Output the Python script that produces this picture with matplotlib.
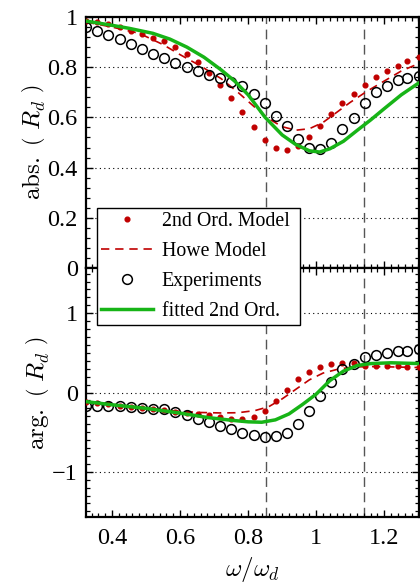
import matplotlib
matplotlib.use("Agg")
import matplotlib.pyplot as plt
from matplotlib.ticker import MultipleLocator, FixedLocator
from matplotlib.lines import Line2D

plt.rcParams['font.family'] = ['Liberation Serif', 'DejaVu Serif']
plt.rcParams['mathtext.fontset'] = 'cm'

# ---------------- data ----------------
exp_x = [0.3235, 0.357, 0.389, 0.422, 0.455, 0.487, 0.520, 0.553, 0.586, 0.620,
         0.652, 0.685, 0.718, 0.751, 0.783, 0.817, 0.849, 0.881, 0.914, 0.947,
         0.980, 1.012, 1.044, 1.077, 1.110, 1.143, 1.176, 1.208, 1.241, 1.268, 1.302]
exp_abs = [0.960, 0.944, 0.930, 0.912, 0.894, 0.874, 0.854, 0.836, 0.817, 0.800,
           0.786, 0.769, 0.757, 0.741, 0.724, 0.695, 0.658, 0.607, 0.565, 0.512,
           0.480, 0.476, 0.500, 0.552, 0.599, 0.658, 0.700, 0.727, 0.748, 0.759, 0.764]
exp_arg = [-0.176, -0.168, -0.168, -0.176, -0.185, -0.193, -0.202, -0.210, -0.244, -0.286,
           -0.336, -0.378, -0.420, -0.462, -0.513, -0.538, -0.563, -0.546, -0.513, -0.403,
           -0.235, -0.050, 0.134, 0.294, 0.361, 0.445, 0.475, 0.504, 0.529, 0.529, 0.546]

so_abs = [0.985, 0.980, 0.972, 0.960, 0.944, 0.932, 0.918, 0.903, 0.879, 0.851,
          0.820, 0.775, 0.730, 0.679, 0.620, 0.561, 0.511, 0.477, 0.469, 0.488,
          0.522, 0.566, 0.612, 0.656, 0.694, 0.729, 0.760, 0.785, 0.806, 0.826, 0.842]
so_arg = [-0.120, -0.135, -0.150, -0.165, -0.180, -0.195, -0.210, -0.225, -0.240, -0.255,
          -0.270, -0.290, -0.310, -0.330, -0.340, -0.311, -0.235, -0.113, 0.030, 0.166,
          0.263, 0.323, 0.360, 0.378, 0.370, 0.330, 0.335, 0.330, 0.330, 0.325, 0.320]

howe_x = [0.3235, 0.40, 0.48, 0.55, 0.60, 0.66, 0.72, 0.77, 0.82, 0.86, 0.90, 0.94,
          0.98, 1.02, 1.06, 1.10, 1.15, 1.20, 1.25, 1.302]
howe_abs = [0.980, 0.960, 0.935, 0.890, 0.850, 0.805, 0.755, 0.700, 0.640, 0.595, 0.563, 0.549,
            0.555, 0.580, 0.620, 0.660, 0.705, 0.745, 0.785, 0.815]
howe_arg = [-0.120, -0.150, -0.185, -0.220, -0.238, -0.252, -0.258, -0.255, -0.228, -0.180, -0.080, 0.040,
            0.160, 0.245, 0.290, 0.318, 0.328, 0.325, 0.320, 0.315]

fit_x = [0.3235, 0.40, 0.45, 0.52, 0.57, 0.62, 0.67, 0.72, 0.76, 0.80, 0.85, 0.90,
         0.94, 0.98, 1.01, 1.04, 1.08, 1.12, 1.16, 1.20, 1.25, 1.302]
fit_abs = [0.984, 0.967, 0.955, 0.935, 0.912, 0.880, 0.840, 0.790, 0.745, 0.690, 0.600, 0.530,
           0.492, 0.467, 0.462, 0.475, 0.505, 0.548, 0.590, 0.635, 0.690, 0.738]
fit_argx = [0.3235, 0.40, 0.50, 0.60, 0.68, 0.75, 0.80, 0.84, 0.88, 0.92, 0.96, 1.00,
            1.04, 1.08, 1.12, 1.16, 1.22, 1.302]
fit_arg = [-0.115, -0.155, -0.200, -0.260, -0.315, -0.350, -0.370, -0.375, -0.345, -0.270, -0.150, -0.020,
           0.150, 0.270, 0.340, 0.365, 0.375, 0.365]

vlines_x = [0.852, 1.141]

labels = ['2nd Ord. Model', 'Howe Model', 'Experiments', 'fitted 2nd Ord.']
x_ticks = [0.4, 0.6, 0.8, 1.0, 1.2]
x_ticklabels = ['0.4', '0.6', '0.8', '1', '1.2']
top_yticks = [0, 0.2, 0.4, 0.6, 0.8, 1.0]
top_yticklabels = ['0', '0.2', '0.4', '0.6', '0.8', '1']
bot_yticks = [-1, 0, 1]
bot_yticklabels = ['\u22121', '0', '1']

# ---------------- styles ----------------
RED = '#c00000'
GREEN = '#17b417'
XLIM = (0.3235, 1.302)

fig = plt.figure(figsize=(4.2, 5.85), dpi=100)
ax1 = fig.add_axes([0.2048, 0.5419, 0.7928, 0.4290])
ax2 = fig.add_axes([0.2048, 0.1162, 0.7928, 0.4257])


def style(ax):
    for s in ax.spines.values():
        s.set_linewidth(1.6)
    ax.tick_params(which='both', direction='in', top=True, right=True,
                   labelsize=17.5, width=1.0, pad=6)
    ax.tick_params(which='major', length=5)
    ax.tick_params(which='minor', length=3, width=0.9)
    ax.set_xlim(*XLIM)
    ax.xaxis.set_major_locator(FixedLocator(x_ticks))
    ax.xaxis.set_minor_locator(MultipleLocator(0.02))
    ax.grid(True, axis='y', which='major', color='black', linestyle=(0, (1, 3)), linewidth=0.8)
    for vx in vlines_x:
        ax.axvline(vx, color='#555555', linestyle=(0, (7, 4)), linewidth=1.0, zorder=1)


# top panel
ax1.plot(exp_x, so_abs, linestyle='none', marker='o', markersize=3.4, color=RED, zorder=3)
ax1.plot(howe_x, howe_abs, linestyle=(0, (5, 3.5)), color=RED, linewidth=1.2, zorder=3)
ax1.plot(exp_x, exp_abs, linestyle='none', marker='o', markersize=7, markerfacecolor='none',
         markeredgecolor='black', markeredgewidth=1.1, zorder=4)
ax1.plot(fit_x, fit_abs, color=GREEN, linewidth=2.5, zorder=5)
style(ax1)
ax1.set_ylim(0, 1)
ax1.set_yticks(top_yticks)
ax1.set_yticklabels(top_yticklabels)
ax1.yaxis.set_minor_locator(MultipleLocator(0.04))
ax1.set_xticklabels([])
ax1.set_ylabel(r'$\mathrm{abs.}\ \left(\ R_d\ \right)$', fontsize=18, labelpad=0)

# bottom panel
ax2.plot(exp_x, so_arg, linestyle='none', marker='o', markersize=3.4, color=RED, zorder=3)
ax2.plot(howe_x, howe_arg, linestyle=(0, (5, 3.5)), color=RED, linewidth=1.2, zorder=3)
ax2.plot(exp_x, exp_arg, linestyle='none', marker='o', markersize=7, markerfacecolor='none',
         markeredgecolor='black', markeredgewidth=1.1, zorder=4)
ax2.plot(fit_argx, fit_arg, color=GREEN, linewidth=2.5, zorder=5)
style(ax2)
ax2.set_ylim(-1.5708, 1.5708)
ax2.set_yticks(bot_yticks)
ax2.set_yticklabels(bot_yticklabels)
ax2.yaxis.set_minor_locator(MultipleLocator(0.1))
ax2.set_xticklabels(x_ticklabels)
ax2.tick_params(axis='x', pad=8)
ax2.set_ylabel(r'$\mathrm{arg.}\ \left(\ R_d\ \right)$', fontsize=18, labelpad=0)
ax2.set_xlabel(r'$\omega/\omega_d$', fontsize=18, labelpad=4)

handles = [
    Line2D([], [], linestyle='none', marker='o', markersize=3.4, color=RED),
    Line2D([], [], linestyle=(0, (5, 3.5)), color=RED, linewidth=1.2),
    Line2D([], [], linestyle='none', marker='o', markersize=7, markerfacecolor='none',
           markeredgecolor='black', markeredgewidth=1.1),
    Line2D([], [], color=GREEN, linewidth=2.5),
]
leg = fig.legend(handles, labels, loc='lower left', bbox_to_anchor=(0.231, 0.4444, 0.483, 0.2034),
                 mode='expand', fontsize=14.3, frameon=True, fancybox=False, edgecolor='black',
                 framealpha=1.0, handlelength=2.6, handletextpad=0.45, borderpad=0.2,
                 labelspacing=0.55, borderaxespad=0.0)
leg.get_frame().set_linewidth(1.0)
leg.set_zorder(10)

fig.savefig('out.png', dpi=100)
